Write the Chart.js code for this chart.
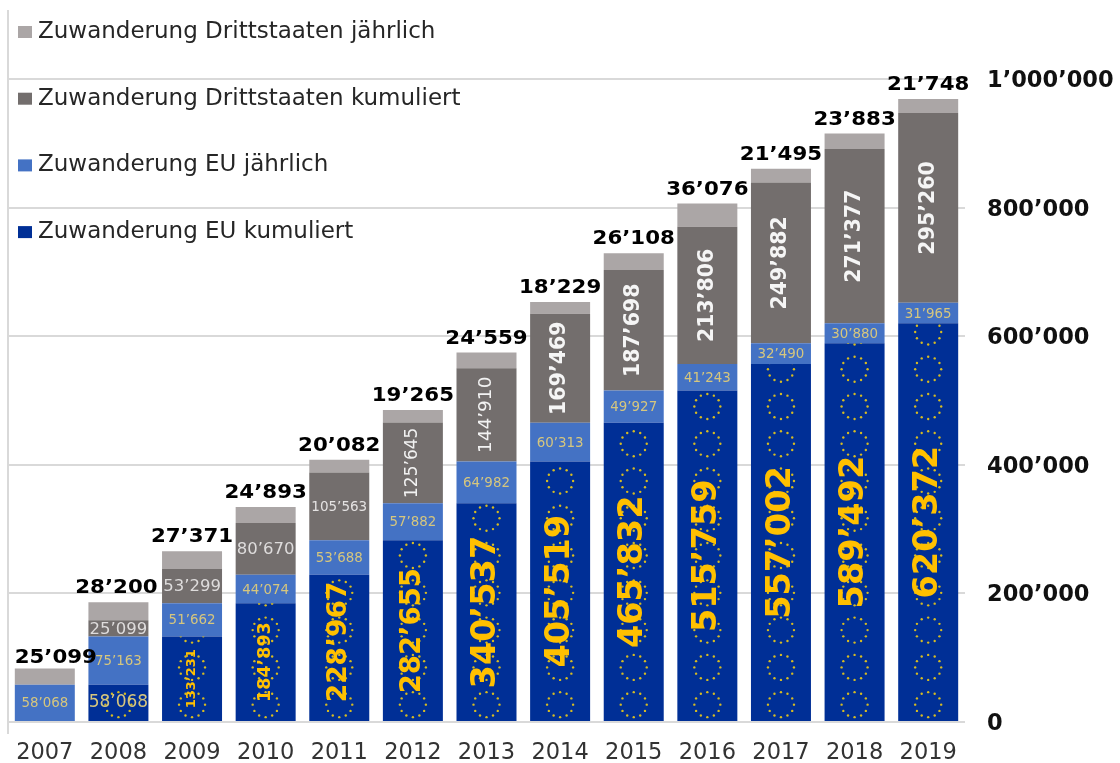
<!DOCTYPE html>
<html lang="de">
<head>
<meta charset="utf-8">
<style>html,body{margin:0;padding:0;background:#fff}canvas{display:block;filter:blur(0.45px)}</style>
<script src="https://cdn.jsdelivr.net/npm/chart.js@4/dist/chart.umd.min.js"></script>
</head>
<body>
<canvas id="c" width="1120" height="763"></canvas>
<script>
const years = ['2007','2008','2009','2010','2011','2012','2013','2014','2015','2016','2017','2018','2019'];
const euKumuliert = [0,58068,133231,184893,228967,282655,340537,405519,465832,515759,557002,589492,620372];
const euJaehrlich = [58068,75163,51662,44074,53688,57882,64982,60313,49927,41243,32490,30880,31965];
const drittKumuliert = [0,25099,53299,80670,105563,125645,144910,169469,187698,213806,249882,271377,295260];
const drittJaehrlich = [25099,28200,27371,24893,20082,19265,24559,18229,26108,36076,21495,23883,21748];
const yTickValues = [0,200000,400000,600000,800000,1000000];

const FONT = '"DejaVu Sans", Verdana, sans-serif';
const fmt = v => String(Math.round(v)).replace(/\B(?=(\d{3})+$)/g, '\u2019');

function text(ctx, str, x, y, size, weight, color, rotated, stretch) {
  ctx.save();
  ctx.translate(x, y);
  if (rotated) ctx.rotate(-Math.PI / 2);
  if (stretch) ctx.scale(stretch, 1);
  ctx.font = weight + ' ' + size + 'px ' + FONT;
  ctx.fillStyle = color;
  ctx.textAlign = 'center';
  ctx.textBaseline = 'middle';
  ctx.fillText(str, 0, 0);
  ctx.restore();
}

function euKumStyle(i) {
  if (i === 1) return { size: 17, weight: 'normal', color: '#D6C67E', rotated: false };
  const sizes = { 2: 13, 3: 17.5, 4: 26.5, 5: 27.5 };
  return { size: sizes[i] || 33.5, weight: 'bold', color: '#FFC000', rotated: true };
}
function drittKumStyle(i) {
  if (i <= 3) return { size: 16.5, weight: 'normal', color: '#DEDCDC', rotated: false };
  if (i === 4) return { size: 13.5, weight: 'normal', color: '#E4E2E2', rotated: false };
  if (i === 5) return { size: 17, weight: 'normal', color: '#F2F2F2', rotated: true };
  if (i === 6) return { size: 18.5, weight: 'normal', color: '#F2F2F2', rotated: true };
  return { size: 20.5, weight: 'bold', color: '#F5F5F5', rotated: true };
}

const overlay = {
  id: 'overlay',
  beforeDatasetsDraw(chart) {
    // legend, top-down in reverse dataset order
    const ctx = chart.ctx;
    chart.data.datasets.slice().reverse().forEach((ds, k) => {
      const cy = 32 + 66.7 * k;
      ctx.fillStyle = ds.backgroundColor;
      ctx.fillRect(18, cy - 6, 14, 12);
      ctx.font = 'normal 23px ' + FONT;
      ctx.fillStyle = '#262626';
      ctx.textAlign = 'left';
      ctx.textBaseline = 'middle';
      ctx.fillText(ds.label, 38, cy);
    });
  },
  afterDatasetsDraw(chart) {
    const ctx = chart.ctx, yScale = chart.scales.y;
    const m = [0, 1, 2, 3].map(d => chart.getDatasetMeta(d).data);
    // EU star rings, repeated up each EU cumulative bar
    m[0].forEach((bar, i) => {
      if (!euKumuliert[i]) return;
      ctx.save();
      ctx.beginPath();
      ctx.rect(bar.x - bar.width / 2, bar.y, bar.width, bar.base - bar.y);
      ctx.clip();
      ctx.fillStyle = '#D6BB22';
      for (let k = 0; yScale.getPixelForValue(27000 + 58000 * k) > bar.y - 15; k++) {
        const cy = yScale.getPixelForValue(27000 + 58000 * k);
        for (let a = 0; a < 12; a++) {
          const t = a * Math.PI / 6;
          ctx.beginPath();
          ctx.arc(bar.x + 13 * Math.sin(t), cy - 12.5 * Math.cos(t), 1.2, 0, 7);
          ctx.fill();
        }
      }
      ctx.restore();
    });
    years.forEach((_, i) => {
      const mid = b => (b.y + b.base) / 2;
      const x = m[0][i].x;
      if (euKumuliert[i]) {
        const s = euKumStyle(i);
        const dy = i === 4 ? -6 : 0;
        text(ctx, fmt(euKumuliert[i]), x, mid(m[0][i]) + dy, s.size, s.weight, s.color, s.rotated);
      }
      text(ctx, fmt(euJaehrlich[i]), x, mid(m[1][i]) + 1, 13.4, 'normal', '#D6C67E', false);
      if (drittKumuliert[i]) {
        const s = drittKumStyle(i);
        text(ctx, fmt(drittKumuliert[i]), x, mid(m[2][i]) + (s.rotated ? 0 : 1), s.size, s.weight, s.color, s.rotated);
      }
      const shift = i === 0 ? 11 : (i === 1 ? -2 : 0);
      const rise = i === 0 ? 11 : 14;
      text(ctx, fmt(drittJaehrlich[i]), x + shift, m[3][i].y - rise, 19.4, 'bold', '#000', false, 1.1);
    });
  }
};

new Chart(document.getElementById('c'), {
  type: 'bar',
  data: {
    labels: years,
    datasets: [
      { label: 'Zuwanderung EU kumuliert', data: euKumuliert, backgroundColor: '#002F96' },
      { label: 'Zuwanderung EU jährlich', data: euJaehrlich, backgroundColor: '#4472C4' },
      { label: 'Zuwanderung Drittstaaten kumuliert', data: drittKumuliert, backgroundColor: '#736E6D' },
      { label: 'Zuwanderung Drittstaaten jährlich', data: drittJaehrlich, backgroundColor: '#ABA6A6' }
    ]
  },
  options: {
    responsive: false,
    animation: false,
    devicePixelRatio: 1,
    layout: { autoPadding: false, padding: { left: 8, right: 0, top: 10, bottom: 0 } },
    datasets: { bar: { barPercentage: 0.815, categoryPercentage: 1 } },
    plugins: {
      tooltip: { enabled: false },
      legend: { display: false }
    },
    scales: {
      x: {
        stacked: true,
        border: { display: false },
        grid: {
          color: c => c.index === 0 ? '#D9D9D9' : 'rgba(0,0,0,0)',
          tickColor: c => c.index === 0 ? '#D9D9D9' : 'rgba(0,0,0,0)',
          lineWidth: c => c.index === 0 ? 2 : 0,
          tickWidth: c => c.index === 0 ? 2 : 0,
          tickLength: 12
        },
        ticks: { color: '#333', padding: 6, autoSkip: false, maxRotation: 0, font: { family: FONT, size: 22.5 } },
        afterFit(s) { s.height = 41; s.paddingLeft = 0; s.paddingRight = 0; }
      },
      y: {
        stacked: true,
        position: 'right',
        min: 0,
        max: 1108000,
        border: { display: false },
        grid: { color: '#D9D9D9', lineWidth: 2, drawTicks: false },
        afterBuildTicks(s) { s.ticks = yTickValues.map(value => ({ value })); },
        ticks: {
          padding: 22,
          labelOffset: 2,
          color: '#111',
          font: { family: FONT, size: 22.5, weight: 'bold' },
          callback: v => fmt(v)
        },
        afterFit(s) { s.width = 155; s.paddingTop = 0; s.paddingBottom = 0; }
      }
    }
  },
  plugins: [overlay]
});
</script>
</body>
</html>
